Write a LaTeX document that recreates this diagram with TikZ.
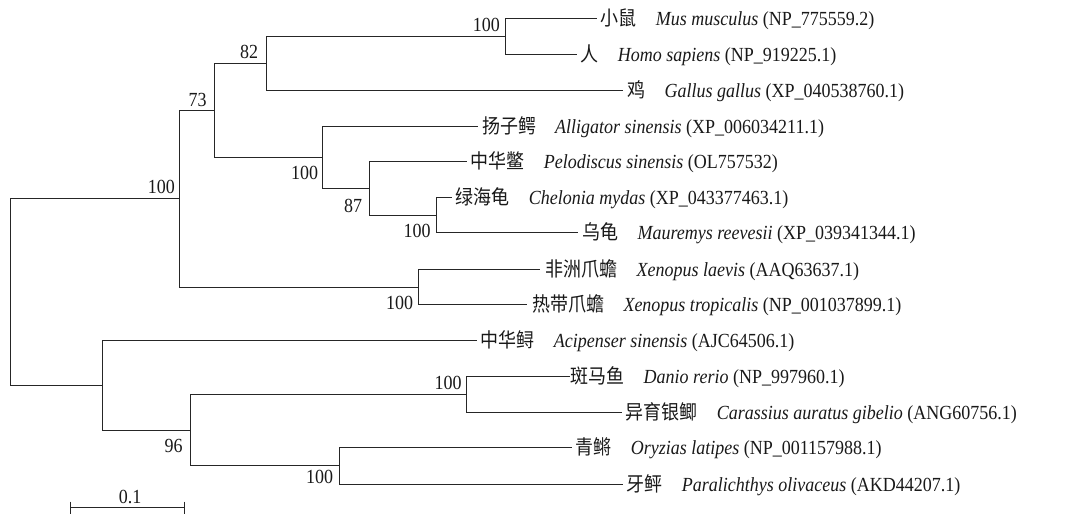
\documentclass[tikz,border=0pt]{standalone}
\usepackage{fontspec}
\setmainfont{Liberation Serif}[FakeStretch=0.9]
\newfontfamily\cjk{Noto Sans CJK SC}[FakeStretch=0.9]
\begin{document}
\begin{tikzpicture}[x=1pt,y=-1pt,
  br/.style={line width=1.35pt,color=black!85},
  leaf/.style={anchor=base west,inner xsep=4pt,inner ysep=0pt,yshift=-7.3pt,font=\fontsize{20}{22}\selectfont,text=black!90},
  boot/.style={anchor=base east,inner sep=0pt,font=\fontsize{20}{22}\selectfont,text=black!90}]
\useasboundingbox (0,0) rectangle (1075,517);
% leaf ends
\coordinate (mus) at (596.7,18.5);
\coordinate (homo) at (576.7,54.5);
\coordinate (gal) at (623.3,90.5);
\coordinate (all) at (478,126.5);
\coordinate (pel) at (466.7,161.5);
\coordinate (che) at (451.7,197.5);
\coordinate (mau) at (578.3,232.5);
\coordinate (xla) at (540,269.5);
\coordinate (xtr) at (527.3,304.5);
\coordinate (aci) at (476.7,340.5);
\coordinate (dan) at (570,376.5);
\coordinate (car) at (621.7,412.5);
\coordinate (ory) at (571.7,447.5);
\coordinate (par) at (622.7,484.5);
% internal nodes
\coordinate (nmh) at (505.5,36.5);
\coordinate (n82) at (266.5,63.5);
\coordinate (ncm) at (436.5,215.5);
\coordinate (n87) at (369.5,188.5);
\coordinate (nrep) at (322.5,157.5);
\coordinate (n73) at (214.5,110.5);
\coordinate (nxen) at (418.5,287.5);
\coordinate (ntet) at (179.5,198.5);
\coordinate (ndc) at (466.5,394.5);
\coordinate (nop) at (339.5,465.5);
\coordinate (n96) at (190.5,430.5);
\coordinate (nfish) at (102.5,385.5);
\coordinate (root) at (10.5,292);
% branches
\draw[br] (nmh) |- (mus); \draw[br] (nmh) |- (homo);
\draw[br] (n82) |- (nmh); \draw[br] (n82) |- (gal);
\draw[br] (ncm) |- (che); \draw[br] (ncm) |- (mau);
\draw[br] (n87) |- (pel); \draw[br] (n87) |- (ncm);
\draw[br] (nrep) |- (all); \draw[br] (nrep) |- (n87);
\draw[br] (n73) |- (n82); \draw[br] (n73) |- (nrep);
\draw[br] (nxen) |- (xla); \draw[br] (nxen) |- (xtr);
\draw[br] (ntet) |- (n73); \draw[br] (ntet) |- (nxen);
\draw[br] (ndc) |- (dan); \draw[br] (ndc) |- (car);
\draw[br] (nop) |- (ory); \draw[br] (nop) |- (par);
\draw[br] (n96) |- (ndc); \draw[br] (n96) |- (nop);
\draw[br] (nfish) |- (aci); \draw[br] (nfish) |- (n96);
\draw[br] (root) |- (ntet); \draw[br] (root) |- (nfish);
% leaf labels
\node[leaf] (tmus) at (mus) {{\cjk 小鼠}\hspace{0.95em}\textit{Mus musculus} (NP\_775559.2)};
\node[leaf] (thomo) at (homo) {{\cjk 人}\hspace{0.95em}\textit{Homo sapiens} (NP\_919225.1)};
\node[leaf] (tgal) at (gal) {{\cjk 鸡}\hspace{0.95em}\textit{Gallus gallus} (XP\_040538760.1)};
\node[leaf] (tall) at (all) {{\cjk 扬子鳄}\hspace{0.95em}\textit{Alligator sinensis} (XP\_006034211.1)};
\node[leaf] (tpel) at (pel) {{\cjk 中华鳖}\hspace{0.95em}\textit{Pelodiscus sinensis} (OL757532)};
\node[leaf] (tche) at (che) {{\cjk 绿海龟}\hspace{0.95em}\textit{Chelonia mydas} (XP\_043377463.1)};
\node[leaf] (tmau) at (mau) {{\cjk 乌龟}\hspace{0.95em}\textit{Mauremys reevesii} (XP\_039341344.1)};
\node[leaf,inner xsep=5.5pt] (txla) at (xla) {{\cjk 非洲爪蟾}\hspace{0.95em}\textit{Xenopus laevis} (AAQ63637.1)};
\node[leaf,inner xsep=5pt] (txtr) at (xtr) {{\cjk 热带爪蟾}\hspace{0.95em}\textit{Xenopus tropicalis} (NP\_001037899.1)};
\node[leaf] (taci) at (aci) {{\cjk 中华鲟}\hspace{0.95em}\textit{Acipenser sinensis} (AJC64506.1)};
\node[leaf,inner xsep=0.5pt] (tdan) at (dan) {{\cjk 斑马鱼}\hspace{0.95em}\textit{Danio rerio} (NP\_997960.1)};
\node[leaf] (tcar) at (car) {{\cjk 异育银鲫}\hspace{0.95em}\textit{Carassius auratus gibelio} (ANG60756.1)};
\node[leaf] (tory) at (ory) {{\cjk 青鳉}\hspace{0.95em}\textit{Oryzias latipes} (NP\_001157988.1)};
\node[leaf] (tpar) at (par) {{\cjk 牙鲆}\hspace{0.95em}\textit{Paralichthys olivaceus} (AKD44207.1)};
% bootstrap values
\node[boot] (bmh) at (500,31.7) {100};
\node[boot] (b82) at (258.3,58.3) {82};
\node[boot] (b73) at (206.7,106) {73};
\node[boot] (btet) at (175,193.3) {100};
\node[boot] (brep) at (318.3,179) {100};
\node[boot] (b87) at (362.3,212) {87};
\node[boot] (bcm) at (430.7,237.3) {100};
\node[boot] (bxen) at (413.3,309) {100};
\node[boot] (bdc) at (461.7,389) {100};
\node[boot] (b96) at (182.7,452.7) {96};
\node[boot] (bop) at (333.3,483.3) {100};
% scale bar
\coordinate (sa) at (70.5,507.5);
\coordinate (sb) at (184.5,507.5);
\draw[br] (sa) -- (sb);
\draw[br] ([yshift=6pt]sa) -- ([yshift=-6pt]sa);
\draw[br] ([yshift=6pt]sb) -- ([yshift=-6pt]sb);
\node[anchor=base,inner sep=0pt,font=\fontsize{20}{22}\selectfont,text=black!90] (sl) at (130,503.3) {0.1};
\end{tikzpicture}
\end{document}
